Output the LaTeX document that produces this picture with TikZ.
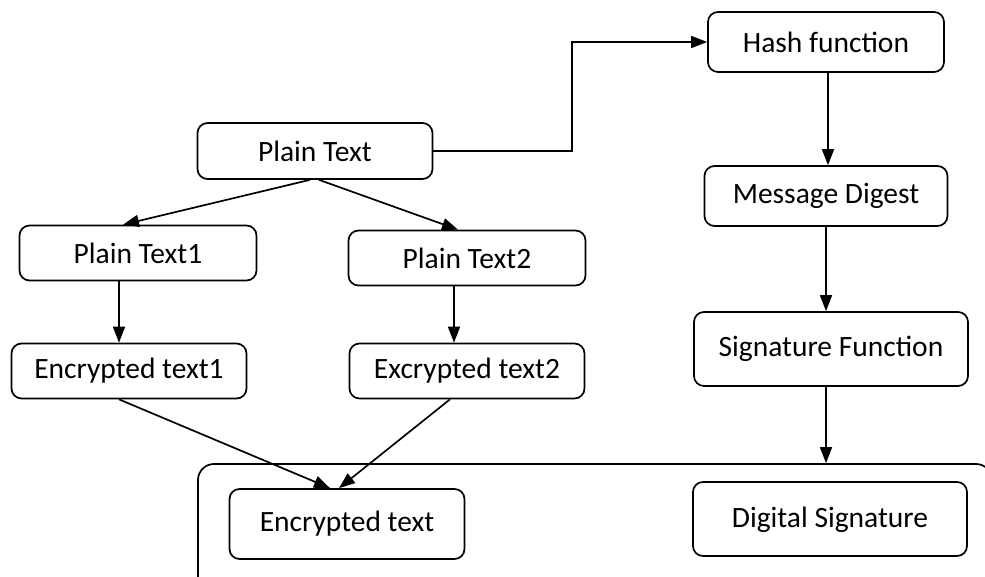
\documentclass[tikz,border=0pt]{standalone}
\usepackage{fontspec}
\setmainfont{Carlito}
\usetikzlibrary{arrows.meta,calc}
\begin{document}
\begin{tikzpicture}[x=1pt,y=-1pt,
  box/.style={draw,line width=1.7pt,rounded corners=10pt,inner sep=0pt,font=\fontsize{29.5}{32}\selectfont},
  arr/.style={line width=1.7pt,-{Triangle[length=16pt,width=12pt]}},
  con/.style={line width=1.7pt}]
\useasboundingbox (0,0) rectangle (985,577);
\begin{scope}
\clip (0,0) rectangle (985,577);
\node[draw,line width=1.7pt,rounded corners=16pt,minimum width=794pt,minimum height=156pt,inner sep=0pt] (cont) at (595,542) {};
\end{scope}
\node[box,minimum width=236pt,minimum height=60pt] (hash) at (826,42) {Hash function};
\node[box,minimum width=243pt,minimum height=60pt] (digest) at (826,196) {Message Digest};
\node[box,minimum width=235pt,minimum height=56pt] (plain) at (315,151) {Plain Text};
\node[box,minimum width=237pt,minimum height=55pt] (pt1) at (138,253) {Plain Text1};
\node[box,minimum width=237pt,minimum height=55pt] (pt2) at (467,258) {Plain Text2};
\node[box,minimum width=235pt,minimum height=55pt] (et1) at (129,371) {Encrypted text1};
\node[box,minimum width=235pt,minimum height=55pt] (et2) at (467,371) {Excrypted text2};
\node[box,minimum width=274pt,minimum height=74pt] (sig) at (831,349) {Signature Function};
\node[box,minimum width=274pt,minimum height=74pt,text depth=4pt] (ds) at (830,519) {Digital Signature};
\node[box,minimum width=235pt,minimum height=70pt] (enc) at (347,524) {Encrypted text};
\coordinate (elbow) at (572,151);
\draw[arr] (plain.east) -- (elbow) |- (hash.west);
\draw[arr] ([xshift=-5pt]plain.south) -- ([xshift=-15pt]pt1.north);
\draw[arr] ([xshift=4pt]plain.south) -- ([xshift=-9pt]pt2.north);
\draw[arr] ([xshift=-19pt]pt1.south) -- ([xshift=-10pt]et1.north);
\draw[arr] ([xshift=-13pt]pt2.south) -- ([xshift=-13pt]et2.north);
\draw[arr] ([xshift=-10pt]et1.south) -- ([xshift=-17pt]enc.north);
\draw[arr] ([xshift=-17pt]et2.south) -- ([xshift=-8pt]enc.north);
\draw[arr] ([xshift=2pt]hash.south) -- ([xshift=2pt]digest.south |- digest.north);
\draw[arr] ([xshift=-5pt]sig.north |- digest.south) -- ([xshift=-5pt]sig.north);
\draw[arr] ([xshift=-5pt]sig.south) -- ([xshift=-5pt]sig.south |- cont.north);
\end{tikzpicture}
\end{document}
